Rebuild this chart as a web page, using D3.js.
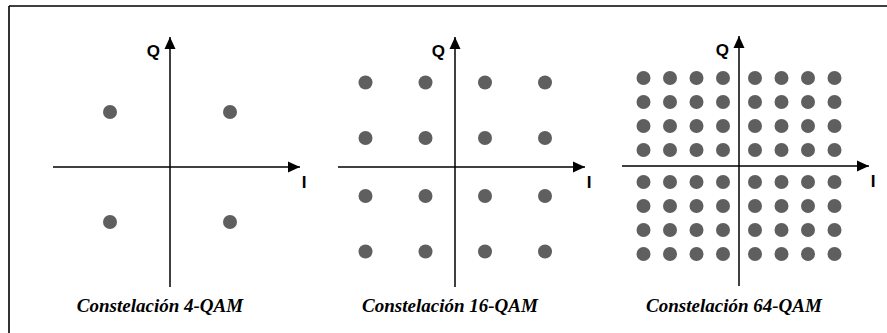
<!DOCTYPE html>
<html>
<head>
<meta charset="utf-8">
<script src="https://cdn.jsdelivr.net/npm/d3@7"></script>
<style>
  body { margin: 0; background: #fff; }
  svg { display: block; }
</style>
</head>
<body>
<div id="chart"></div>
<script>
// constellation levels (I and Q use the same set)
const titles = ["Constelación 4-QAM", "Constelación 16-QAM", "Constelación 64-QAM"];
const levels4 = [-1, 1];
const levels16 = [-3, -1, 1, 3];
const levels64 = [-7, -5, -3, -1, 1, 3, 5, 7];
const axisLabels = ["I", "Q"];

const width = 887, height = 333;

const svg = d3.select("#chart").append("svg")
    .attr("width", width)
    .attr("height", height);

// frame: only top and left edges show
svg.append("line")
    .attr("x1", 9).attr("x2", width).attr("y1", 6).attr("y2", 6)
    .attr("stroke", "#000").attr("stroke-width", 1.6);
svg.append("line")
    .attr("x1", 9).attr("x2", 9).attr("y1", 6).attr("y2", height)
    .attr("stroke", "#000").attr("stroke-width", 1.6);

svg.append("defs").append("marker")
    .attr("id", "arrow")
    .attr("viewBox", "0 0 12 12")
    .attr("refX", 12).attr("refY", 6)
    .attr("markerWidth", 12).attr("markerHeight", 12)
    .attr("markerUnits", "userSpaceOnUse")
    .attr("orient", "auto")
    .append("path")
    .attr("d", "M0,0.5 L12,6 L0,11.5 Z")
    .attr("fill", "#000");

// per panel: centre of axes and the pixel offsets of the outer / inner levels
const panels = [
  {levels: levels4,  cx: 170, cy: 167, xr: [-60, 60],   yr: [55, -55]},
  {levels: levels16, cx: 455, cy: 167, xr: [-89.5, -29.5, 30, 90], yr: [84.5, 29, -29, -84.5]},
  {levels: levels64, cx: 739, cy: 166, xr: [-95.5, -16, 16, 95.5], yr: [88, 16, -16, -88]}
];

panels.forEach((p, i) => {
  const m = d3.max(p.levels);
  const dom = m === 1 ? [-1, 1] : [-m, -1, 1, m];
  const x = d3.scaleLinear().domain(dom).range(p.xr.map(v => v + p.cx));
  const y = d3.scaleLinear().domain(dom).range(p.yr.map(v => v + p.cy));

  const g = svg.append("g");

  // I axis
  g.append("line")
      .attr("x1", p.cx - 117).attr("x2", p.cx + 130)
      .attr("y1", p.cy).attr("y2", p.cy)
      .attr("stroke", "#000").attr("stroke-width", 1.5)
      .attr("marker-end", "url(#arrow)");
  // Q axis
  g.append("line")
      .attr("x1", p.cx).attr("x2", p.cx)
      .attr("y1", p.cy + 120).attr("y2", p.cy - 130)
      .attr("stroke", "#000").attr("stroke-width", 1.5)
      .attr("marker-end", "url(#arrow)");

  g.append("text")
      .attr("x", p.cx + 134).attr("y", p.cy + 21)
      .attr("text-anchor", "middle")
      .attr("font-family", "Liberation Sans, Arial, sans-serif")
      .attr("font-weight", "bold")
      .attr("font-size", 17)
      .text(axisLabels[0]);
  g.append("text")
      .attr("x", p.cx - 10).attr("y", p.cy - 110)
      .attr("text-anchor", "end")
      .attr("font-family", "Liberation Sans, Arial, sans-serif")
      .attr("font-weight", "bold")
      .attr("font-size", 17)
      .text(axisLabels[1]);

  const pts = d3.cross(p.levels, p.levels);
  g.selectAll("circle")
      .data(pts)
      .join("circle")
      .attr("cx", d => x(d[0]))
      .attr("cy", d => y(d[1]))
      .attr("r", 7)
      .attr("fill", "#5f5f5f");

  g.append("text")
      .attr("x", p.cx - (i === 0 ? 10 : 5)).attr("y", 312)
      .attr("text-anchor", "middle")
      .attr("font-family", "Liberation Serif, Times New Roman, serif")
      .attr("font-weight", "bold")
      .attr("font-style", "italic")
      .attr("font-size", 19)
      .text(titles[i]);
});
</script>
</body>
</html>
